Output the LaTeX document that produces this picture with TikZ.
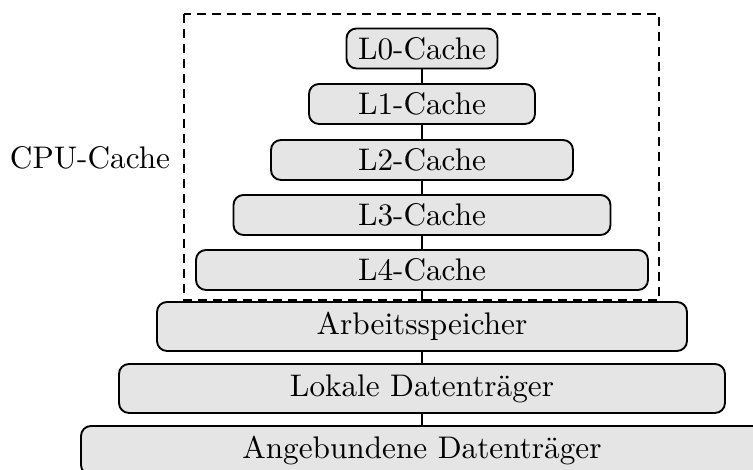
\documentclass[tikz,border=0pt]{standalone}
\usetikzlibrary{positioning}
\begin{document}
\begin{tikzpicture}[x=0.32pt,y=-0.32pt,
  level/.style={draw=black,fill=black!10,line width=0.6pt,rounded corners=3.2pt,inner sep=0pt,minimum height={#1*0.32pt}},
  link/.style={draw=black,line width=0.6pt}]
\useasboundingbox (0,0) rectangle (753,470);
\node[level=40,minimum width={151*0.32pt}] (l0) at (422,48.5) {L0-Cache};
\node[level=40,minimum width={226*0.32pt}] (l1) at (422,104) {L1-Cache};
\node[level=40,minimum width={302*0.32pt}] (l2) at (422,160) {L2-Cache};
\node[level=40,minimum width={377*0.32pt}] (l3) at (422,215) {L3-Cache};
\node[level=40,minimum width={452*0.32pt}] (l4) at (422,270) {L4-Cache};
\node[level=49,minimum width={530*0.32pt}] (ram) at (422,326.5) {Arbeitsspeicher};
\node[level=49,minimum width={606*0.32pt}] (lok) at (422,388.5) {Lokale Datenträger};
\node[level=49,minimum width={682*0.32pt}] (ang) at (422,450.5) {Angebundene Datenträger};
\draw[link] (l0.south) -- (l1.north);
\draw[link] (l1.south) -- (l2.north);
\draw[link] (l2.south) -- (l3.north);
\draw[link] (l3.south) -- (l4.north);
\draw[link] (l4.south) -- (ram.north);
\draw[link] (ram.south) -- (lok.north);
\draw[link] (lok.south) -- (ang.north);
\draw[line width=0.6pt,dash pattern=on 2.8pt off 2pt] (184,14) rectangle (659,300);
\node (cpu) at (90,158) {CPU-Cache};
\end{tikzpicture}
\end{document}
